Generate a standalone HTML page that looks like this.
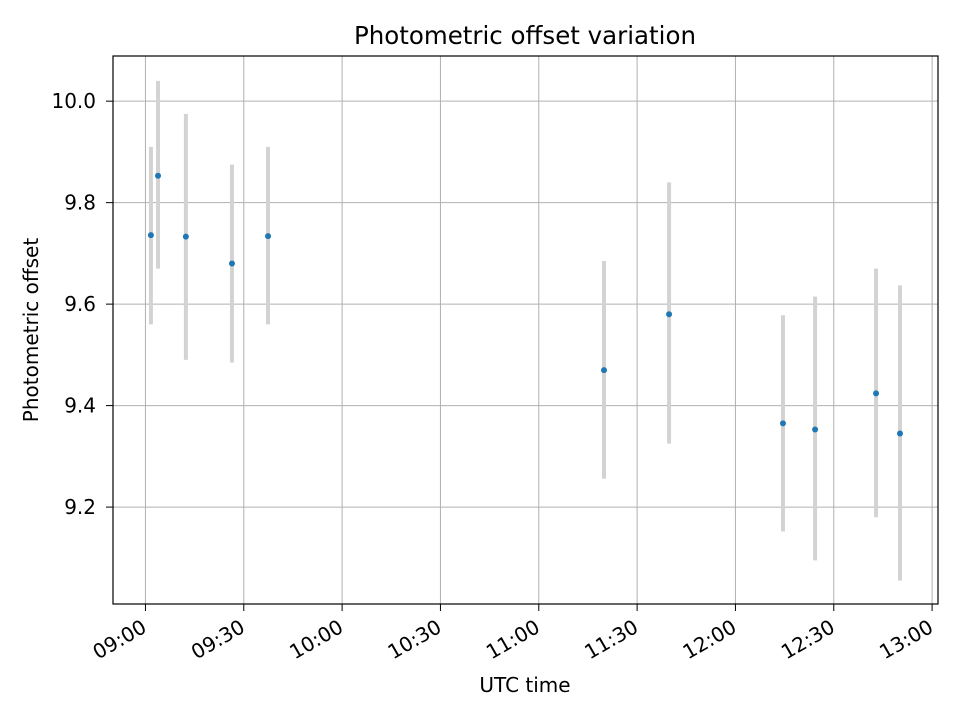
<!DOCTYPE html>
<html><head><meta charset="utf-8"><style>
body{margin:0;background:#fff;font-family:"Liberation Sans","DejaVu Sans",sans-serif}
</style></head><body>
<svg id="chart" width="960" height="720" xmlns="http://www.w3.org/2000/svg" font-family="'DejaVu Sans', 'Liberation Sans', sans-serif">
<rect width="960" height="720" fill="#fff"/>
<g id="grid"></g>
<g id="errs"></g>
<g id="pts"></g>
<rect x="113" y="56" width="825" height="548" fill="none" stroke="#000" stroke-width="1.2"/>
<g id="xt"></g>
<g id="yt"></g>
<text x="525" y="44" text-anchor="middle" font-size="24.5">Photometric offset variation</text>
<text x="525" y="692" text-anchor="middle" font-size="20">UTC time</text>
<text transform="translate(38,330) rotate(-90)" text-anchor="middle" font-size="20">Photometric offset</text>
</svg>
<script>
const times = ["09:01:40","09:03:50","09:12:20","09:26:24","09:37:24","11:19:54","11:39:45","12:14:30","12:24:18","12:42:54","12:50:12"];
const offsets = [9.736,9.853,9.733,9.680,9.734,9.470,9.580,9.365,9.353,9.424,9.345];
const errLow = [9.56,9.67,9.49,9.485,9.56,9.256,9.325,9.152,9.095,9.18,9.055];
const errHigh = [9.91,10.04,9.975,9.875,9.91,9.685,9.84,9.578,9.615,9.67,9.637];
const xTickLabels = ["09:00","09:30","10:00","10:30","11:00","11:30","12:00","12:30","13:00"];
const yTickLabels = ["9.2","9.4","9.6","9.8","10.0"];
const NS="http://www.w3.org/2000/svg";
const L=113,R=938,T=56,B=604;
const xMin=-9.9,xMax=241.8,yMin=9.009,yMax=10.089;
function toMin(s){const p=s.split(":").map(Number);return (p[0]-9)*60+p[1]+(p[2]||0)/60;}
function xs(m){return L+(m-xMin)/(xMax-xMin)*(R-L);}
function ys(v){return B-(v-yMin)/(yMax-yMin)*(B-T);}
function mk(tag,attrs,parent){const e=document.createElementNS(NS,tag);for(const k in attrs)e.setAttribute(k,attrs[k]);parent.appendChild(e);return e;}
const grid=document.getElementById('grid'),xt=document.getElementById('xt'),yt=document.getElementById('yt');
xTickLabels.forEach(l=>{const x=xs(toMin(l));
 const g=mk('line',{x1:x,x2:x,y1:T,y2:B,stroke:'#b0b0b0','stroke-width':1},grid);
 
 
 const t=mk('line',{x1:x,x2:x,y1:B,y2:B+7,stroke:'#000'},xt);
 
 
 const tx=mk('text',{transform:`translate(${x-5},${B+14}) rotate(-30)`,x:0,y:15,'text-anchor':'end','font-size':20},xt);
 tx.textContent=l;
 
 
});
yTickLabels.forEach(l=>{const y=ys(parseFloat(l));
 const g=mk('line',{x1:L,x2:R,y1:y,y2:y,stroke:'#b0b0b0','stroke-width':1},grid);
 
 
 const t=mk('line',{x1:L-7,x2:L,y1:y,y2:y,stroke:'#000'},yt);
 
 
 const tx=mk('text',{x:L-17,y:y+7,'text-anchor':'end','font-size':20},yt);
 tx.textContent=l;
 
 
});
const errs=document.getElementById('errs'),pts=document.getElementById('pts');
times.forEach((t,i)=>{const x=xs(toMin(t));
 const e=mk('line',{x1:x,x2:x,y1:ys(errHigh[i]),y2:ys(errLow[i]),stroke:'#d3d3d3','stroke-width':4},errs);
 
 
 const c=mk('circle',{cx:x,cy:ys(offsets[i]),r:3,fill:'#1f77b4'},pts);
 
 
});
</script>
</body></html>
